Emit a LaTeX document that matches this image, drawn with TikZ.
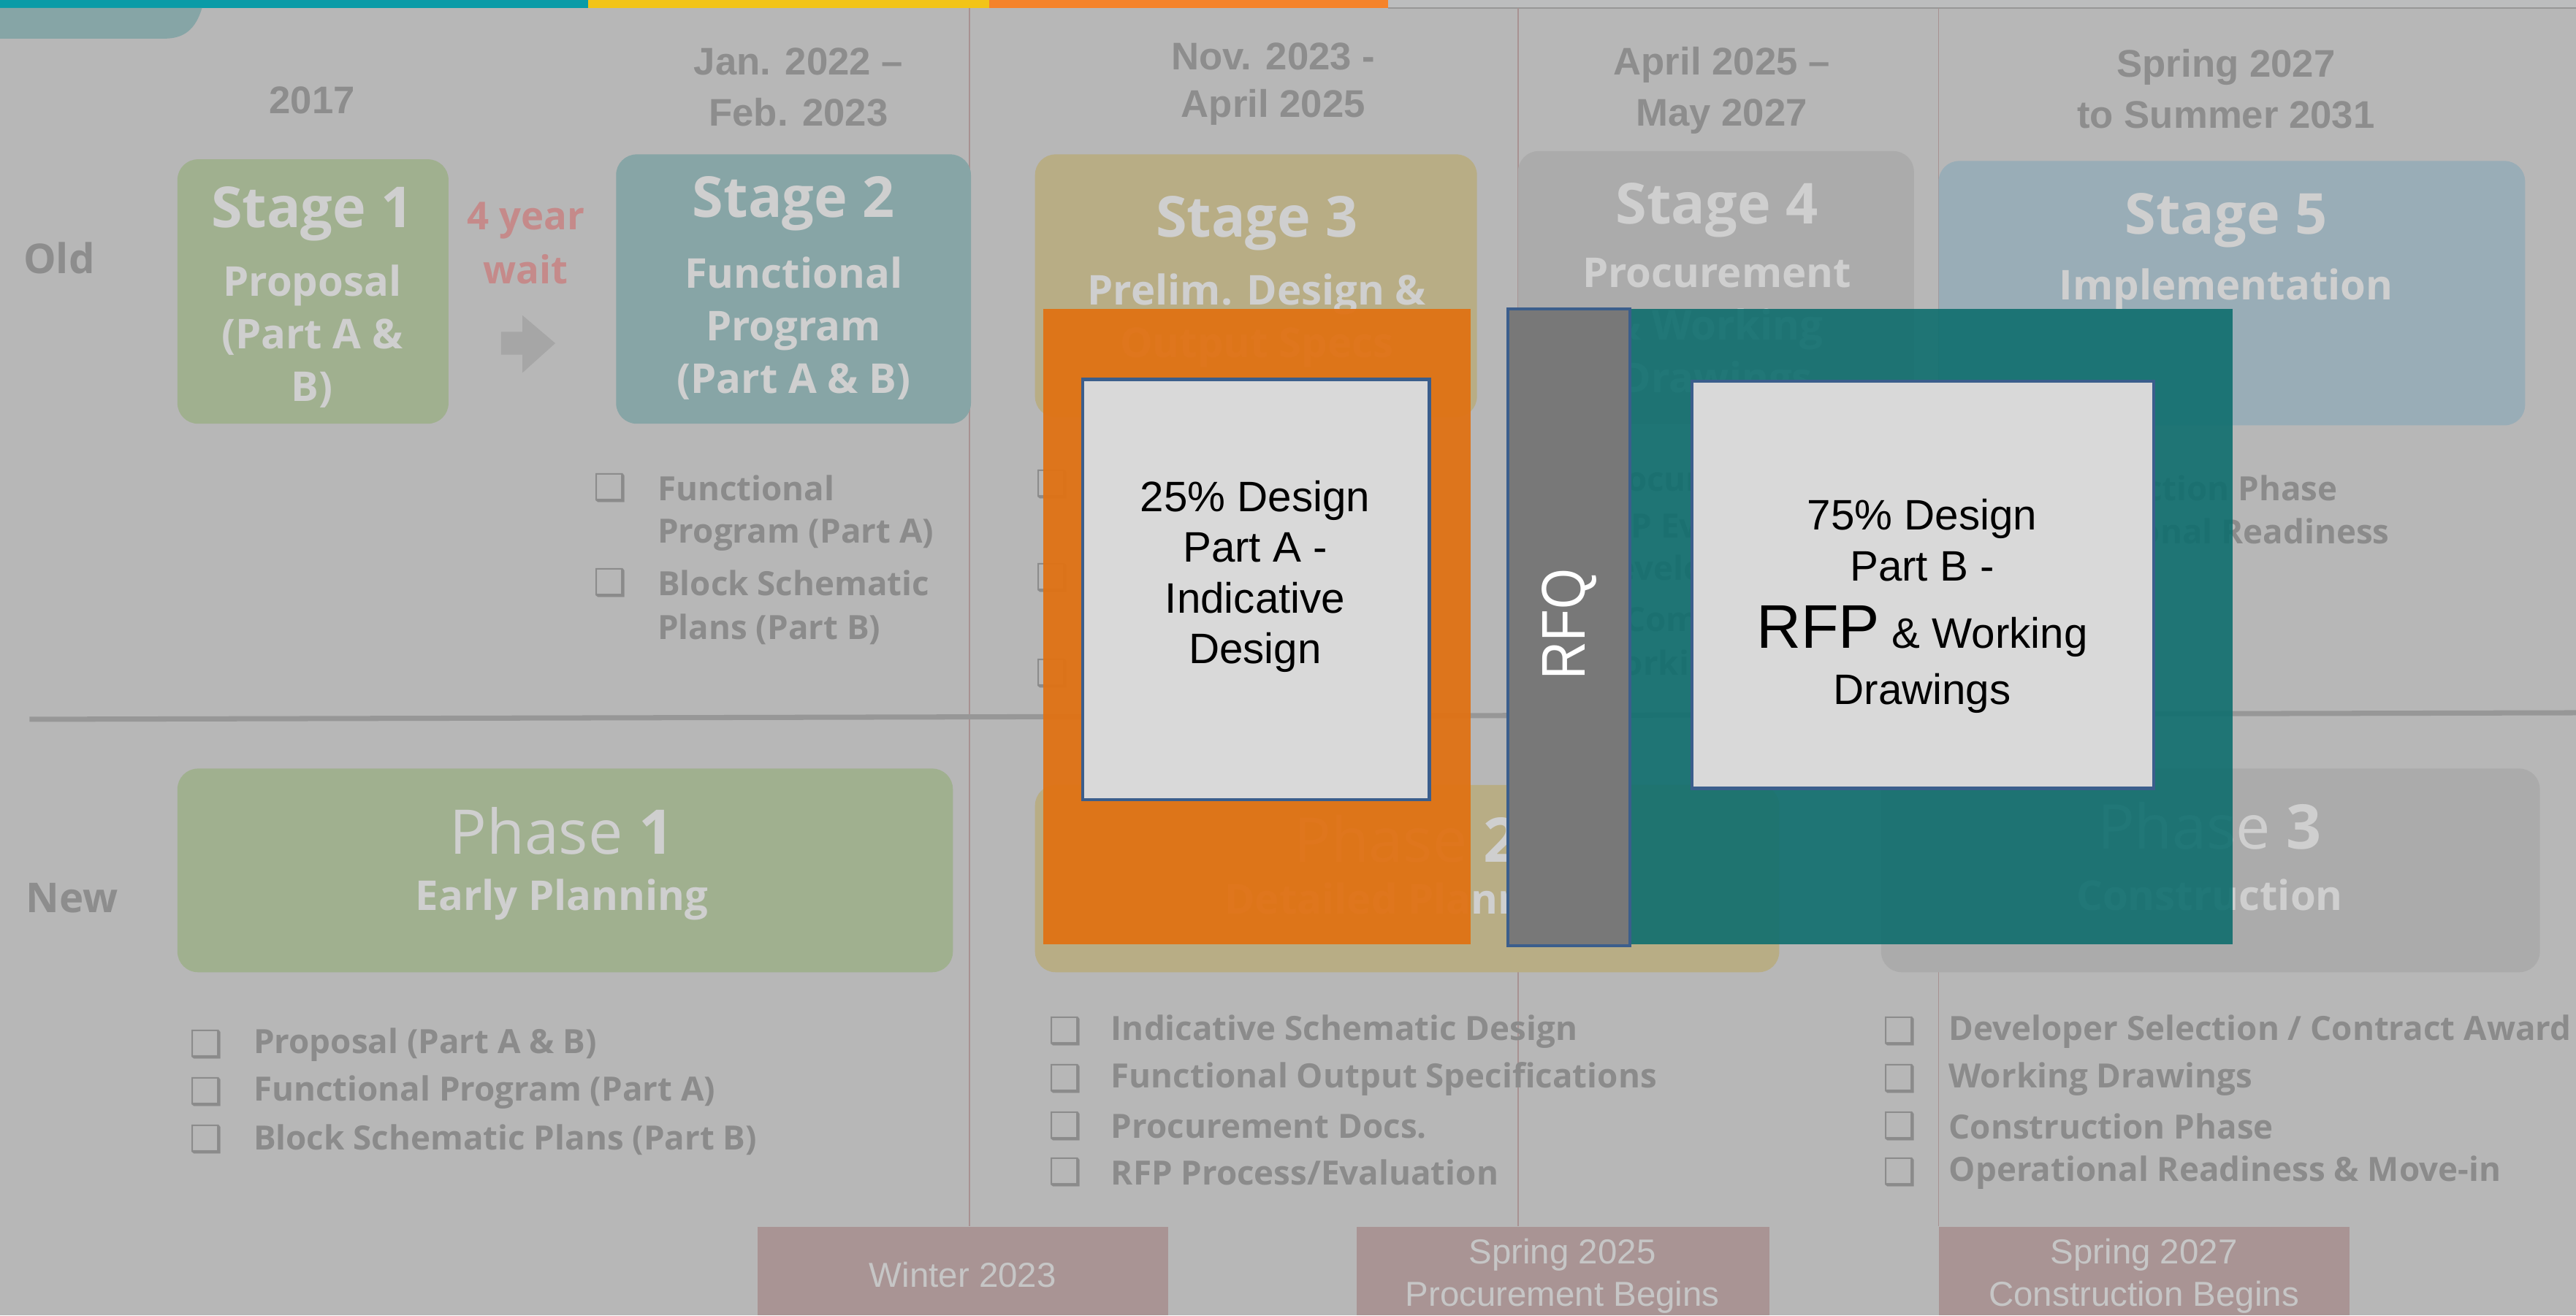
\documentclass[tikz,border=0pt]{standalone}
\usepackage{fontspec}
\setmainfont{Open Sans}
\newfontfamily\arialf{Liberation Sans}
\newfontfamily\dejavuf{DejaVu Sans}
\usetikzlibrary{fit}
\definecolor{bg}{HTML}{B7B7B7}
\definecolor{topteal}{HTML}{0A9BA7}
\definecolor{topyel}{HTML}{F2C418}
\definecolor{toporg}{HTML}{F5832A}
\definecolor{toplg}{HTML}{BCBDBE}
\definecolor{tabc}{HTML}{86A5A6}
\definecolor{vline}{HTML}{A89292}
\definecolor{divc}{HTML}{979797}
\definecolor{dategray}{HTML}{8D8D8D}
\definecolor{bulgray}{HTML}{8B8B8B}
\definecolor{boxtxt}{HTML}{CFCFCF}
\definecolor{greenb}{HTML}{A0B08F}
\definecolor{tealb}{HTML}{87A5A6}
\definecolor{tanb}{HTML}{B8AD85}
\definecolor{greyb}{HTML}{ABABAB}
\definecolor{blueb}{HTML}{99ADB7}
\definecolor{waitred}{HTML}{C58A8A}
\definecolor{arrowg}{HTML}{A6A6A6}
\definecolor{mauve}{HTML}{A99494}
\definecolor{mauvetxt}{HTML}{C6C6C6}
\definecolor{ovorange}{HTML}{E07214}
\definecolor{ovteal}{HTML}{0F6E6E}
\definecolor{rfqgrey}{HTML}{787878}
\definecolor{edgeblue}{HTML}{3B5E8C}
\definecolor{paper}{HTML}{D9D9D9}
\tikzset{
  x=0.22487mm, y=-0.22487mm,
  datelbl/.style={font=\arialf\bfseries\fontsize{15}{20}\selectfont, text=dategray, align=center, inner sep=0},
  rowlbl/.style={font=\bfseries\fontsize{16}{20}\selectfont, text=dategray, inner sep=0},
  sbox/.style={rounded corners=8pt, inner sep=0, draw=none},
  stitle/.style={font=\bfseries\fontsize{22}{26}\selectfont, text=boxtxt, inner sep=0},
  ssub/.style={font=\bfseries\fontsize{16}{20.5}\selectfont, text=boxtxt, align=center, inner sep=0},
  ptitle/.style={font=\fontsize{24}{28}\selectfont, text=boxtxt, inner sep=0},
  item/.style={font=\bfseries\fontsize{13}{18}\selectfont, text=bulgray, anchor=west, inner sep=0},
  chk/.style={font=\dejavuf\fontsize{14.5}{14.5}\selectfont, text=bulgray, anchor=west, inner sep=0},
  milestone/.style={fill=mauve, inner sep=0},
  mtxt/.style={font=\arialf\fontsize{13.5}{16.6}\selectfont, text=mauvetxt, align=center, inner sep=0},
  papertxt/.style={font=\arialf\fontsize{16.6}{19.8}\selectfont, text=black, align=center, inner sep=0},
}
\begin{document}
\begin{tikzpicture}
\useasboundingbox (0,0) rectangle (1568,801);
\fill[bg] (0,0) rectangle (1568,801);
% top bars
\fill[topteal] (0,0) rectangle (358,4.8);
\fill[topyel] (358,0) rectangle (602,4.8);
\fill[toporg] (602,0) rectangle (845,4.8);
\fill[toplg] (845,0) rectangle (1568,4.8);
\draw[color=divc, line width=0.5pt] (845,5) -- (1568,5);
\fill[tabc] (0,4.8) -- (123,4.8) .. controls (119,18) and (112,23.5) .. (100,23.5) -- (0,23.5) -- cycle;

% bottom milestone boxes
\node[milestone, fit={(461,747) (711,801)}] (m1) {};
\node[milestone, fit={(826,747) (1077,801)}] (m2) {};
\node[milestone, fit={(1180,747) (1430,801)}] (m3) {};
\node[mtxt] (m1t) at (586,776) {Winter 2023};
\node[mtxt] (m2t) at (951,777) {Spring 2025\\Procurement Begins};
\node[mtxt] (m3t) at (1305,777) {Spring 2027\\Construction Begins};

% vertical separators
\coordinate (v1) at (590,5);
\coordinate (v2) at (924,5);
\coordinate (v3) at (1180,5);
\draw[color=vline, line width=0.5pt] (v1) -- (v1 |- m1.north);
\draw[color=vline, line width=0.5pt] (v2) -- (v2 |- m2.north);
\draw[color=vline, line width=0.5pt] (v3) -- (v3 |- m3.north);

% horizontal divider
\coordinate (dL) at (18,438);
\coordinate (dR) at (1568,434);
\draw[color=divc, line width=2pt] (dL) -- (dR);

% dates
\node[datelbl] (d1) at (190,61) {2017};
\node[datelbl] (d2) at (486,53) {Jan. 2022 –\\Feb. 2023};
\node[datelbl, font=\arialf\bfseries\fontsize{15}{18.5}\selectfont] (d3) at (775,51) {Nov. 2023 -\\April 2025};
\node[datelbl] (d4) at (1048,55) {April 2025 –\\May 2027};
\node[datelbl] (d5) at (1355,54) {Spring 2027\\to Summer 2031};

\node[rowlbl] (old) at (36,157) {Old};
\node[rowlbl] (new) at (44,547) {New};

% stage boxes
\node[sbox, fill=greenb, fit={(108,97) (273,258)}] (s1) {};
\node[sbox, fill=tealb, fit={(375,94) (591,258)}] (s2) {};
\node[sbox, fill=tanb, fit={(630,94) (899,254)}] (s3) {};
\node[sbox, fill=greyb, fit={(924,92) (1165,258)}] (s4) {};
\node[sbox, fill=blueb, fit={(1180,98) (1537,259)}] (s5) {};

\node[stitle] (s1t) at (190,130) {Stage 1};
\node[ssub] (s1s) at (190,205) {Proposal\\(Part A \&\\B)};
\node[stitle] (s2t) at (483,124) {Stage 2};
\node[ssub] (s2s) at (483,200) {Functional\\Program\\(Part A \& B)};
\node[stitle] (s3t) at (765,136) {Stage 3};
\node[ssub] (s3s) at (765,195) {Prelim. Design \&\\Output Specs};
\node[stitle] (s4t) at (1045,128) {Stage 4};
\node[ssub] (s4s) at (1045,201) {Procurement\\\& Working\\Drawings};
\node[stitle] (s5t) at (1355,134) {Stage 5};
\node[ssub] (s5s) at (1355,176) {Implementation};

% wait label and arrow
\node[font=\bfseries\fontsize{15}{21}\selectfont, text=waitred, align=center, inner sep=0] (wait) at (320,148) {4 year\\wait};
\fill[arrowg] (305,202) -- (318,202) -- (318,192) -- (338,209) -- (318,227) -- (318,216) -- (305,216) -- cycle;

% stage lists
\node[chk] (c21) at (361,297) {❑};
\node[item] (i21) at (400,297) {Functional};
\node[item] (i21b) at (400,326) {Program (Part A)};
\node[chk] (c22) at (361,355) {❑};
\node[item] (i22) at (400,355) {Block Schematic};
\node[item] (i22b) at (400,383) {Plans (Part B)};

\node[chk] (c31) at (630,295) {❑};
\node[item] (i31) at (668,295) {Indicative};
\node[item] (i31b) at (668,323) {Schematic Design};
\node[chk] (c32) at (630,352) {❑};
\node[item] (i32) at (668,352) {Functional Output};
\node[item] (i32b) at (668,380) {Specifications};
\node[chk] (c33) at (630,410) {❑};
\node[item] (i33) at (668,410) {Procurement Docs.};

\node[chk] (c41) at (930,292) {❑};
\node[item] (i41) at (968,292) {Procurement};
\node[chk] (c42) at (930,320) {❑};
\node[item] (i42) at (968,320) {RFP Evaluation};
\node[chk] (c43) at (930,348) {❑};
\node[item] (i43) at (968,348) {Developer Selection};
\node[item] (i43b) at (968,377) {\& Commercial Close};
\node[chk] (c44) at (930,406) {❑};
\node[item] (i44) at (968,406) {Working Drawings};

\node[chk] (c51) at (1192,297) {❑};
\node[item] (i51) at (1225,297) {Construction Phase};
\node[chk] (c52) at (1192,326) {❑};
\node[item] (i52) at (1225,326) {Operational Readiness};

% phase boxes
\node[sbox, fill=greenb, fit={(108,468) (580,592)}] (p1) {};
\node[sbox, fill=tanb, fit={(630,478) (1083,592)}] (p2) {};
\node[sbox, fill=greyb, fit={(1145,468) (1546,592)}] (p3) {};
\node[ptitle] (p1t) at (342,506) {Phase \textbf{1}};
\node[ssub] (p1s) at (342,548) {Early Planning};
\node[ptitle] (p2t) at (856,511) {Phase \textbf{2}};
\node[ssub] (p2s) at (856,550) {Detailed Planning};
\node[ptitle] (p3t) at (1345,503) {Phase \textbf{3}};
\node[ssub] (p3s) at (1345,545) {Construction};

% phase lists
\node[chk] (q11) at (115,636) {❑};
\node[item] (j11) at (154,636) {Proposal (Part A \& B)};
\node[chk] (q12) at (115,665) {❑};
\node[item] (j12) at (154,665) {Functional Program (Part A)};
\node[chk] (q13) at (115,694) {❑};
\node[item] (j13) at (154,694) {Block Schematic Plans (Part B)};

\node[chk] (q21) at (638,628) {❑};
\node[item] (j21) at (676,628) {Indicative Schematic Design};
\node[chk] (q22) at (638,657) {❑};
\node[item] (j22) at (676,657) {Functional Output Specifications};
\node[chk] (q23) at (638,686) {❑};
\node[item] (j23) at (676,686) {Procurement Docs.};
\node[chk] (q24) at (638,714) {❑};
\node[item] (j24) at (676,714) {RFP Process/Evaluation};

\node[chk] (q31) at (1146,628) {❑};
\node[item] (j31) at (1186,628) {Developer Selection / Contract Award};
\node[chk] (q32) at (1146,657) {❑};
\node[item] (j32) at (1186,657) {Working Drawings};
\node[chk] (q33) at (1146,686) {❑};
\node[item] (j33) at (1186,686) {Construction Phase};
\node[chk] (q34) at (1146,714) {❑};
\node[item] (j34) at (1186,714) {Operational Readiness \& Move-in};

% overlays
\node[fill=ovorange, fill opacity=0.95, inner sep=0, fit={(635,188) (895,575)}] (orng) {};
\node[fill=ovteal, fill opacity=0.9, inner sep=0, fit={(992,188) (1359,575)}] (tl) {};
\node[fill=rfqgrey, draw=edgeblue, line width=1.2pt, inner sep=0, fit={(918,188) (992,576)}] (rfq) {};
\node[rotate=90, text=white, font=\arialf\fontsize{24}{24}\selectfont, inner sep=0] (rfqt) at (955,380) {\scalebox{0.85}[1]{RFQ}};
\node[fill=paper, draw=edgeblue, line width=1.2pt, inner sep=0, fit={(659,231) (870,487)}] (wa) {};
\node[fill=paper, draw=edgeblue, line width=1.2pt, inner sep=0, fit={(1030,232) (1311,480)}] (wb) {};
\node[papertxt] (wat) at (764,351) {25\% Design\\Part A -\\Indicative\\Design};
\node[papertxt] (wbt) at (1170,369) {75\% Design\\Part B -\\[6.5pt]{\fontsize{24}{26}\selectfont RFP} \& Working\\[2pt]Drawings};
\end{tikzpicture}
\end{document}
